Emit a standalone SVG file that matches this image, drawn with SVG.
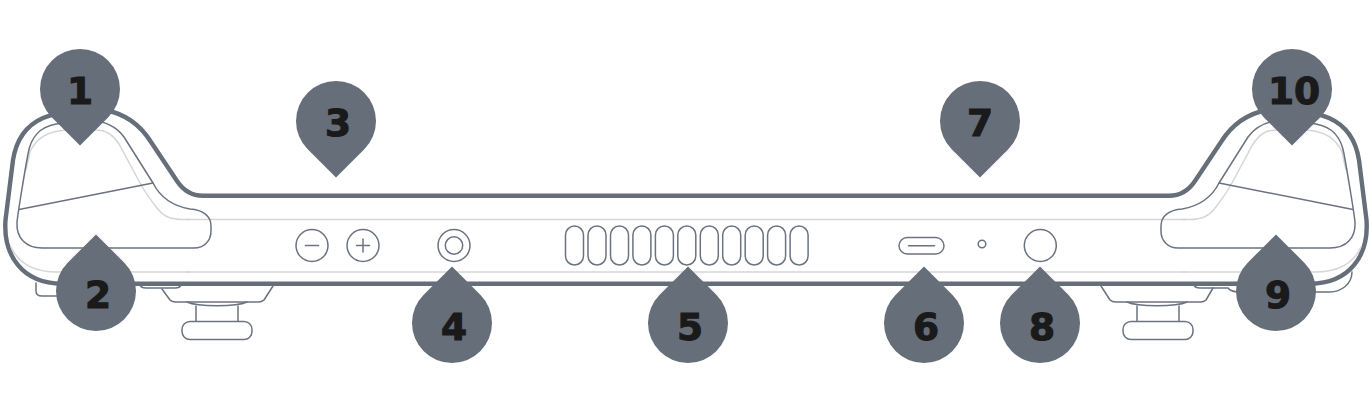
<svg xmlns="http://www.w3.org/2000/svg" width="1372" height="416" viewBox="0 0 1372 416">
<style>
.thick{fill:none;stroke:#666e7a;stroke-width:4.4;stroke-linejoin:round;stroke-linecap:round}
.thin{fill:none;stroke:#6b7380;stroke-width:1.5;stroke-linejoin:round;stroke-linecap:round}
.light{fill:none;stroke:#d6d6d6;stroke-width:1.5}
.pin{fill:#666e7a}
.num{font-family:"DejaVu Sans",sans-serif;font-weight:700;font-size:37.500px;fill:#1a1a1a;stroke:#1a1a1a;stroke-width:1.100;text-anchor:middle}
</style>
<defs>
<path id="pd" d="M0 56.600L-28.300 28.300A40 40 0 1 1 28.300 28.300Z"/>
<path id="pu" d="M0 -56.600L-28.300 -28.300A40 40 0 1 0 28.300 -28.300Z"/>
<g id="grip">
<path class="light" d="M190 219.500H183C170 219.500 163 216 157 208C150 199 146 194 140 183L119 144C112 134 106 130 95 130H66C48 131 36 138 30 152L26 170"/>
<path class="light" d="M11 247C17 260 30 272 57 272H190"/>
<path class="thin" d="M17 222C18 212 25 170 28 154C31 136 40 127 56 124L90 120C104 121 116 126 124 137L153 183C160 197 173 206 190 209C203 210 211 216 211 226V231C211 241 204 248 194 248H42C26 248 16 238 17 222Z"/>
<path class="thin" d="M19 209.500L153 183"/>
</g>
</defs>
<g id="body">
<path class="light" d="M186 219.500H1186M186 272H1186"/>
<path class="thick" d="M203 195.800C192 195.800 183 190 177 181L151 142C141 126 126 114 105 110C85 107 63 110 43 118C25 126 16 141 13 160L5.500 220C3 255 22 283.700 62 283.700H1310C1350 283.700 1369 255 1366.500 220L1359 160C1356 141 1347 126 1329 118C1309 110 1287 107 1267 110C1246 114 1231 126 1221 142L1195 181C1189 190 1180 195.800 1169 195.800Z"/>
</g>
<g id="left-grip"><use href="#grip"/></g>
<g id="right-grip"><use href="#grip" transform="matrix(-1 0 0 1 1372 0)"/></g>
<g id="left-hardware">
<path class="thin" d="M36 283V291Q36 296 42 296H60"/>
<path class="thin" d="M140 285Q141 288 146 288H175Q180 288 181 285"/>
<path class="thin" d="M162 289L170 300Q172 302 176 302H258Q262 302 264 300L273 286"/>
<path class="thin" d="M187 302C198 307 236 307 247 302"/>
<path class="thin" d="M196 306V321M238 306V321"/>
<rect class="thin" x="182" y="321.500" width="70" height="18" rx="8"/>
</g>
<g id="right-hardware">
<path class="thin" d="M1194 285Q1195 288 1200 288H1228Q1230 291 1237 292"/>
<path class="thin" d="M1315 292H1330C1341 292 1352 284 1352 272"/>
<path class="thin" d="M1101 286L1110 300Q1112 302 1116 302H1200Q1204 302 1206 300L1213 288"/>
<path class="thin" d="M1127 302C1138 307 1176 307 1187 302"/>
<path class="thin" d="M1137 306V321M1179 306V321"/>
<rect class="thin" x="1123" y="321.500" width="70" height="18" rx="8"/>
</g>
<g id="volume-down"><circle class="thin" cx="312" cy="245.500" r="16"/><path class="thin" d="M305.500 245.500H318.500"/></g>
<g id="volume-up"><circle class="thin" cx="363" cy="245.500" r="16"/><path class="thin" d="M356.500 245.500H369.500M363 239V252"/></g>
<g id="audio-jack"><circle class="thin" cx="454" cy="245.500" r="16"/><circle class="thin" cx="454" cy="245.500" r="8.700"/></g>
<g id="vents">
<rect class="thin" x="565.500" y="226" width="18" height="39" rx="9"/>
<rect class="thin" x="588" y="226" width="18" height="39" rx="9"/>
<rect class="thin" x="610.500" y="226" width="18" height="39" rx="9"/>
<rect class="thin" x="632.900" y="226" width="18" height="39" rx="9"/>
<rect class="thin" x="655.400" y="226" width="18" height="39" rx="9"/>
<rect class="thin" x="677.800" y="226" width="18" height="39" rx="9"/>
<rect class="thin" x="700.300" y="226" width="18" height="39" rx="9"/>
<rect class="thin" x="722.700" y="226" width="18" height="39" rx="9"/>
<rect class="thin" x="745.200" y="226" width="18" height="39" rx="9"/>
<rect class="thin" x="767.600" y="226" width="18" height="39" rx="9"/>
<rect class="thin" x="790.100" y="226" width="18" height="39" rx="9"/>
</g>
<g id="usb-c"><rect class="thin" x="899" y="237.500" width="45" height="16.500" rx="8.250"/><path class="thin" d="M908.500 245.700H934.500"/></g>
<g id="led"><circle class="thin" cx="982" cy="244" r="3.800"/></g>
<g id="power-button"><circle class="thin" cx="1040.300" cy="245.500" r="16"/></g>
<g id="pin-1"><use class="pin" href="#pd" x="80" y="89"/><text class="num" x="80" y="103.500">1</text></g>
<g id="pin-2"><use class="pin" href="#pu" x="96" y="291"/><text class="num" x="98" y="307.500">2</text></g>
<g id="pin-3"><use class="pin" href="#pd" x="336" y="121"/><text class="num" x="338" y="135.500">3</text></g>
<g id="pin-4"><use class="pin" href="#pu" x="452" y="323"/><text class="num" x="454" y="339.500">4</text></g>
<g id="pin-5"><use class="pin" href="#pu" x="688" y="323"/><text class="num" x="690" y="339.500">5</text></g>
<g id="pin-6"><use class="pin" href="#pu" x="924" y="323"/><text class="num" x="926" y="339.500">6</text></g>
<g id="pin-7"><use class="pin" href="#pd" x="980" y="121"/><text class="num" x="980" y="135.500">7</text></g>
<g id="pin-8"><use class="pin" href="#pu" x="1040" y="323"/><text class="num" x="1042" y="339.500">8</text></g>
<g id="pin-9"><use class="pin" href="#pu" x="1276" y="291"/><text class="num" x="1278" y="307.500">9</text></g>
<g id="pin-10"><use class="pin" href="#pd" x="1292" y="89"/><text class="num" x="1294" y="103.500">10</text></g>
</svg>
